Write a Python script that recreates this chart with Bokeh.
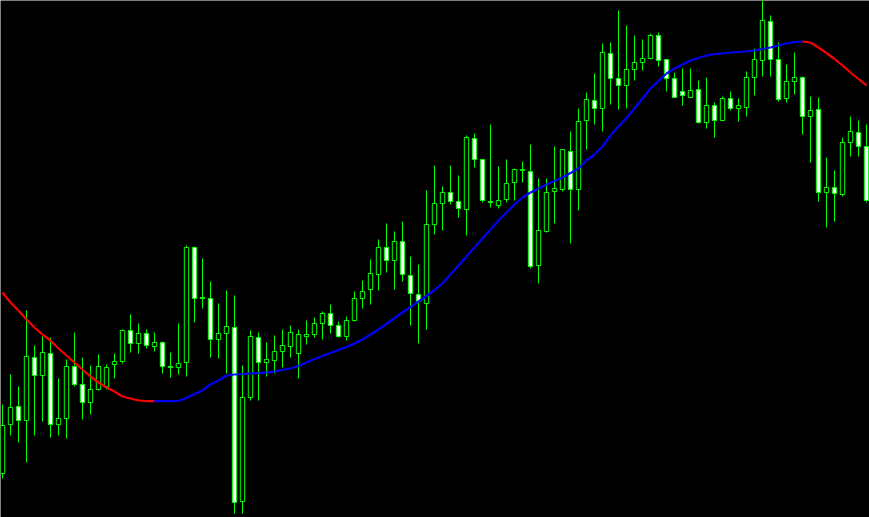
from bokeh.plotting import figure
from bokeh.models import ColumnDataSource, Range1d
from bokeh.embed import file_html
from bokeh.resources import INLINE

# OHLC per bar (price units)
opens = [1.0844, 1.0893, 1.0911, 1.0897, 1.0960, 1.0942, 1.0964, 1.0893, 1.0899, 1.0951,
         1.0933, 1.0915, 1.0928, 1.0931, 1.0953, 1.0956, 1.0987, 1.0974, 1.0984, 1.0971,
         1.0975, 1.0951, 1.0950, 1.0955, 1.1070, 1.1020, 1.1019, 1.0978, 1.0984, 1.0990,
         1.0816, 1.0920, 1.0980, 1.0955, 1.0957, 1.0966, 1.0971, 1.0964, 1.0981, 1.0983,
         1.0994, 1.1004, 1.0992, 1.0981, 1.0997, 1.1019, 1.1028, 1.1043, 1.1070, 1.1057,
         1.1076, 1.1042, 1.1023, 1.1014, 1.1093, 1.1114, 1.1125, 1.1116, 1.1108, 1.1179,
         1.1158, 1.1116, 1.1112, 1.1118, 1.1135, 1.1147, 1.1146, 1.1052, 1.1086, 1.1126,
         1.1128, 1.1166, 1.1128, 1.1197, 1.1217, 1.1209, 1.1264, 1.1239, 1.1232, 1.1248,
         1.1255, 1.1259, 1.1282, 1.1258, 1.1239, 1.1226, 1.1220, 1.1228, 1.1195, 1.1212,
         1.1197, 1.1219, 1.1209, 1.1210, 1.1240, 1.1257, 1.1296, 1.1258, 1.1219, 1.1236,
         1.1240, 1.1201, 1.1208, 1.1125, 1.1130, 1.1123, 1.1175, 1.1185, 1.1171]
highs = [1.0913, 1.0943, 1.0931, 1.1007, 1.0972, 1.0981, 1.0980, 1.0939, 1.0958, 1.0985,
         1.0960, 1.0952, 1.0963, 1.0953, 1.0964, 1.0988, 1.1003, 1.0994, 1.0988, 1.0985,
         1.0976, 1.0965, 1.0994, 1.1072, 1.1071, 1.1059, 1.1036, 1.1014, 1.1027, 1.1022,
         1.0952, 1.0987, 1.0985, 1.0975, 1.0982, 1.0988, 1.0992, 1.0988, 1.0997, 1.1000,
         1.1006, 1.1013, 1.0996, 1.1001, 1.1026, 1.1037, 1.1058, 1.1078, 1.1094, 1.1086,
         1.1096, 1.1061, 1.1053, 1.1127, 1.1152, 1.1131, 1.1152, 1.1142, 1.1182, 1.1184,
         1.1158, 1.1193, 1.1151, 1.1158, 1.1149, 1.1156, 1.1173, 1.1139, 1.1139, 1.1171,
         1.1168, 1.1186, 1.1209, 1.1225, 1.1244, 1.1274, 1.1275, 1.1307, 1.1292, 1.1282,
         1.1278, 1.1284, 1.1285, 1.1258, 1.1245, 1.1249, 1.1249, 1.1237, 1.1240, 1.1215,
         1.1221, 1.1226, 1.1219, 1.1246, 1.1269, 1.1317, 1.1302, 1.1275, 1.1253, 1.1265,
         1.1241, 1.1221, 1.1220, 1.1160, 1.1147, 1.1180, 1.1201, 1.1197, 1.1193]
lows = [1.0839, 1.0882, 1.0875, 1.0855, 1.0882, 1.0896, 1.0880, 1.0882, 1.0879, 1.0931,
        1.0898, 1.0903, 1.0927, 1.0928, 1.0939, 1.0954, 1.0965, 1.0964, 1.0969, 1.0966,
        1.0944, 1.0940, 1.0943, 1.0941, 1.0995, 1.1009, 1.0960, 1.0959, 1.0944, 1.0804,
        1.0804, 1.0917, 1.0917, 1.0941, 1.0944, 1.0950, 1.0960, 1.0939, 1.0973, 1.0980,
        1.0978, 1.0984, 1.0980, 1.0977, 1.0996, 1.1009, 1.1013, 1.1027, 1.1045, 1.1028,
        1.1036, 1.0992, 1.0974, 1.0988, 1.1083, 1.1087, 1.1113, 1.1100, 1.1082, 1.1150,
        1.1115, 1.1110, 1.1109, 1.1115, 1.1117, 1.1135, 1.1049, 1.1034, 1.1085, 1.1094,
        1.1126, 1.1074, 1.1107, 1.1168, 1.1193, 1.1186, 1.1213, 1.1208, 1.1209, 1.1237,
        1.1247, 1.1258, 1.1251, 1.1226, 1.1220, 1.1212, 1.1220, 1.1194, 1.1189, 1.1180,
        1.1197, 1.1207, 1.1196, 1.1201, 1.1222, 1.1241, 1.1241, 1.1216, 1.1215, 1.1223,
        1.1183, 1.1155, 1.1116, 1.1090, 1.1096, 1.1121, 1.1161, 1.1161, 1.1115]
closes = [1.0892, 1.0910, 1.0897, 1.0961, 1.0942, 1.0965, 1.0893, 1.0899, 1.0951, 1.0933,
          1.0915, 1.0928, 1.0951, 1.0950, 1.0956, 1.0987, 1.0974, 1.0984, 1.0972, 1.0975,
          1.0951, 1.0950, 1.0954, 1.1070, 1.1019, 1.1019, 1.0978, 1.0984, 1.0991, 1.0815,
          1.0920, 1.0981, 1.0955, 1.0958, 1.0966, 1.0972, 1.0985, 1.0983, 1.0983, 1.0994,
          1.1004, 1.0992, 1.0981, 1.0997, 1.1019, 1.1026, 1.1044, 1.1070, 1.1057, 1.1076,
          1.1043, 1.1024, 1.1016, 1.1093, 1.1114, 1.1125, 1.1116, 1.1109, 1.1180, 1.1158,
          1.1117, 1.1115, 1.1117, 1.1134, 1.1148, 1.1148, 1.1051, 1.1087, 1.1125, 1.1129,
          1.1168, 1.1128, 1.1196, 1.1218, 1.1209, 1.1265, 1.1239, 1.1232, 1.1248, 1.1255,
          1.1259, 1.1282, 1.1257, 1.1239, 1.1220, 1.1222, 1.1227, 1.1195, 1.1212, 1.1197,
          1.1219, 1.1209, 1.1212, 1.1240, 1.1258, 1.1297, 1.1258, 1.1218, 1.1236, 1.1240,
          1.1201, 1.1207, 1.1125, 1.1130, 1.1124, 1.1175, 1.1186, 1.1171, 1.1117]

# Smoothed moving average
ma = [1.10250, 1.10150, 1.10070, 1.09980, 1.09900, 1.09830, 1.09770, 1.09690, 1.09620, 1.09550,
      1.09480, 1.09410, 1.09350, 1.09300, 1.09260, 1.09210, 1.09190, 1.09170, 1.09164, 1.09163,
      1.09163, 1.09163, 1.09165, 1.09195, 1.09235, 1.09270, 1.09330, 1.09370, 1.09420, 1.09430,
      1.09435, 1.09440, 1.09444, 1.09448, 1.09460, 1.09475, 1.09490, 1.09515, 1.09550, 1.09585,
      1.09615, 1.09645, 1.09675, 1.09705, 1.09740, 1.09780, 1.09830, 1.09880, 1.09935, 1.09995,
      1.10050, 1.10105, 1.10160, 1.10215, 1.10275, 1.10340, 1.10430, 1.10520, 1.10610, 1.10700,
      1.10790, 1.10880, 1.10970, 1.11050, 1.11130, 1.11200, 1.11250, 1.11290, 1.11330, 1.11365,
      1.11400, 1.11445, 1.11490, 1.11570, 1.11630, 1.11710, 1.11820, 1.11910, 1.11995, 1.12090,
      1.12190, 1.12290, 1.12365, 1.12440, 1.12490, 1.12530, 1.12570, 1.12595, 1.12620, 1.12635,
      1.12640, 1.12650, 1.12655, 1.12660, 1.12670, 1.12685, 1.12700, 1.12720, 1.12740, 1.12755,
      1.12760, 1.12750, 1.12700, 1.12645, 1.12585, 1.12520, 1.12450, 1.12385, 1.12320]

n = len(opens)
idx = list(range(n))

GREEN = "#00FF00"
BULL_FILL = "#000000"
BEAR_FILL = "#FFFFFF"
UP_COLOR = "#0000FF"
DOWN_COLOR = "#FF0000"

tops = [max(o, c) for o, c in zip(opens, closes)]
bottoms = [min(o, c) for o, c in zip(opens, closes)]
fills = [BULL_FILL if c >= o else BEAR_FILL for o, c in zip(opens, closes)]

candles = ColumnDataSource(dict(x=idx, high=highs, low=lows, top=tops,
                                bottom=bottoms, fill=fills))

seg_colors = [DOWN_COLOR if ma[i + 1] < ma[i] else UP_COLOR for i in range(n - 1)]
ma_src = ColumnDataSource(dict(x0=idx[:-1], x1=idx[1:], y0=ma[:-1], y1=ma[1:],
                               color=seg_colors))

p = figure(width=869, height=517, output_backend="svg", toolbar_location=None,
           x_range=Range1d(-0.25, 108.375), y_range=Range1d(1.0800, 1.1317),
           background_fill_color="#000000", border_fill_color="#000000",
           min_border=0, outline_line_color=None)
p.xaxis.visible = False
p.yaxis.visible = False
p.grid.visible = False

p.segment(x0="x", y0="high", x1="x", y1="low", source=candles,
          line_color=GREEN, line_width=1)
p.vbar(x="x", width=0.55, top="top", bottom="bottom", source=candles,
       fill_color="fill", line_color=GREEN, line_width=1)

p.segment(x0="x0", y0="y0", x1="x1", y1="y1", source=ma_src,
          line_color="color", line_width=2.2)

open("out.html", "w").write(file_html(p, INLINE))
